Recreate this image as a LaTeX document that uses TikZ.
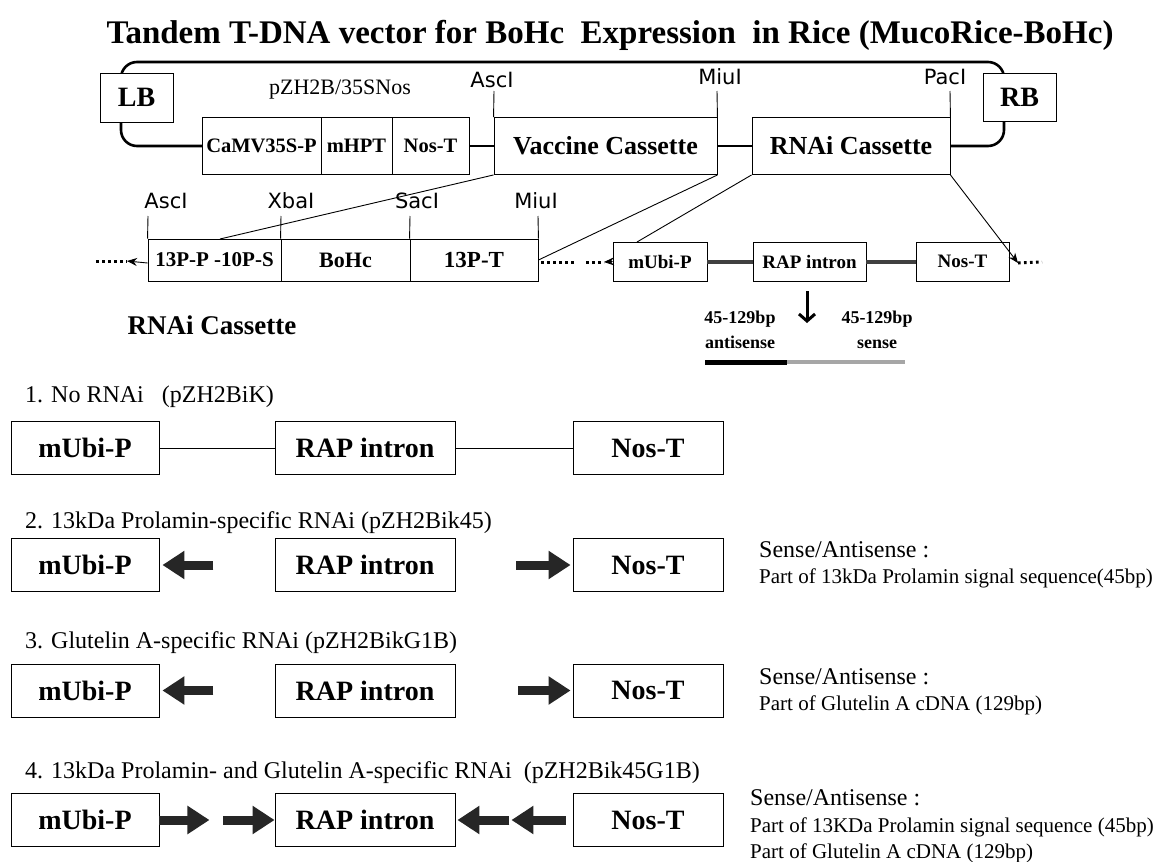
\documentclass[tikz,border=0pt]{standalone}
\usepackage{fontspec}
\setmainfont{Liberation Serif}
\newfontfamily\enzfont{DejaVu Sans}
\usetikzlibrary{arrows.meta}

\begin{document}
\begin{tikzpicture}[x=1pt,y=-1pt,
    box/.style={draw, line width=0.9pt, fill=white, inner sep=0pt},
    bigbox/.style={box, minimum height=53pt, font=\bfseries\fontsize{28}{30}\selectfont},
    txt/.style={inner sep=0pt, anchor=west},
    enz/.style={inner sep=0pt, anchor=base, font=\enzfont\fontsize{21}{22}\selectfont},
    frame/.style={line width=2.6pt},
    thin/.style={line width=0.9pt},
    dots/.style={line width=3pt, dash pattern=on 2.6pt off 3.4pt},
    blk/.style={line width=9pt, draw=black!85, -{Triangle[length=22pt,width=27pt]}},
  ]
  \path[use as bounding box, fill=white] (0,0) rectangle (1165,862);

  \node[font=\bfseries\fontsize{33}{36}\selectfont] (title) at (610,35)
    {Tandem T-DNA vector for BoHc\ \ Expression\ \ in Rice (MucoRice-BoHc)};

  % T-DNA
  \draw[frame, rounded corners=16] (202,146) -- (121,146) -- (121,62) -- (1004,62) -- (1004,146) -- (950,146);
  \node[box, minimum width=73pt, minimum height=49pt, font=\bfseries\fontsize{28}{30}\selectfont] (lb) at (136.5,97.5) {LB};
  \node[box, minimum width=73pt, minimum height=48pt, font=\bfseries\fontsize{28}{30}\selectfont] (rb) at (1019.5,97) {RB};
  \node[font=\fontsize{22}{24}\selectfont] (pzh) at (340,90) {pZH2B/35SNos};
  \begin{scope}[every node/.style={box, minimum height=57pt, font=\bfseries\fontsize{20.5}{22}\selectfont}]
    \node[minimum width=119pt] (camv) at (261.5,146) {CaMV35S-P};
    \node[minimum width=71pt] (mhpt) at (356.5,146) {mHPT};
    \node[minimum width=77pt] (nost) at (430.5,146) {Nos-T};
    \node[minimum width=223pt, font=\bfseries\fontsize{26}{28}\selectfont] (vacc) at (605.5,146) {Vaccine Cassette};
    \node[minimum width=198pt, font=\bfseries\fontsize{26}{28}\selectfont] (rnai) at (851,146) {RNAi Cassette};
  \end{scope}
  \draw[frame] (nost) -- (vacc);
  \draw[frame] (vacc) -- (rnai);
  \coordinate (t1) at (494,91);
  \coordinate (t2) at (717,91);
  \coordinate (t3) at (950,91);
  \draw[thin] (t1) -- (vacc.north west);
  \draw[thin] (t2) -- (vacc.north east);
  \draw[thin] (t3) -- (rnai.north east);
  \node[enz] (asc1) at (492,87) {AscI};
  \node[enz] (mlu1) at (720,84) {MiuI};
  \node[enz] (pac1) at (945,84) {PacI};

  % vaccine cassette
  \begin{scope}[every node/.style={box, minimum height=42pt, font=\bfseries\fontsize{22}{24}\selectfont}]
    \node[minimum width=133pt, font=\bfseries\fontsize{21}{22}\selectfont] (p13) at (214.5,260) {13P-P -10P-S};
    \node[minimum width=129pt] (bohc) at (345.5,260) {BoHc};
    \node[minimum width=128pt, font=\bfseries\fontsize{23}{24}\selectfont] (t13) at (474,260) {13P-T};
  \end{scope}
  \coordinate (s1) at (148,216);
  \coordinate (s2) at (281,216);
  \coordinate (s3) at (410,216);
  \coordinate (s4) at (538,216);
  \draw[thin] (s1) -- (p13.north west);
  \draw[thin] (s2) -- (bohc.north west);
  \draw[thin] (s3) -- (t13.north west);
  \draw[thin] (s4) -- (t13.north east);
  \node[enz] (asc2) at (166,208) {AscI};
  \node[enz] (xba2) at (291,208) {XbaI};
  \node[enz] (sac2) at (417,208) {SacI};
  \node[enz] (mlu2) at (536,208) {MiuI};

  % RNAi cassette
  \begin{scope}[every node/.style={box, minimum height=39pt, font=\bfseries\fontsize{19}{20}\selectfont}]
    \node[minimum width=94pt] (mub0) at (660,261.5) {mUbi-P};
    \node[minimum width=113pt] (rap0) at (809.5,261.5) {RAP intron};
    \node[minimum width=93pt] (nos0) at (962.5,261.5) {Nos-T};
  \end{scope}
  \draw[line width=4pt, black!75] (mub0) -- (rap0);
  \draw[line width=4pt, black!75] (rap0) -- (nos0);

  % zoom lines and ends
  \coordinate (v1) at (220,239);
  \coordinate (r1) at (637,242);
  \coordinate (r2) at (1018,263);
  \coordinate (e1) at (127,261);
  \coordinate (e2) at (604,262);
  \draw[thin] (vacc.south west) -- (v1);
  \draw[thin] (vacc.south east) -- (t13.east);
  \draw[thin] (rnai.south west) -- (r1);
  \draw[thin, -{Stealth[length=10pt,width=8pt]}] (rnai.south east) -- (r2);
  \draw[thin, -{Stealth[length=10pt,width=8pt]}] ([yshift=-3pt]p13.west) -- (e1);
  \draw[thin, -{Stealth[length=10pt,width=8pt]}] (mub0.west) -- (e2);
  \draw[dots] (96,261) -- (e1);
  \draw[dots] (541,262) -- (576,262);
  \draw[dots] (586,262) -- (e2);
  \draw[dots] (r2) -- (1042,262);

  % sense / antisense
  \coordinate (d1) at (807,291);
  \coordinate (d2) at (807,323);
  \draw[line width=3pt, -{Straight Barb[length=7pt,width=16pt]}] (d1) -- (d2);
  \node[align=center, font=\bfseries\fontsize{18}{25}\selectfont] (anti) at (740,330) {45-129bp\\antisense};
  \node[align=center, font=\bfseries\fontsize{18}{25}\selectfont] (sens) at (877,330) {45-129bp\\sense};
  \fill[black] (705,360) rectangle (787,364.5);
  \fill[black!35] (787,360) rectangle (905,364);

  \node[font=\bfseries\fontsize{27}{30}\selectfont] (head) at (212,325) {RNAi Cassette};

  % 1
  \node[txt, font=\fontsize{24}{26}\selectfont] (lab1) at (25,397) {1. No RNAi\ \ \ (pZH2BiK)};
  \node[bigbox, minimum width=148pt] (mub1) at (85,448) {mUbi-P};
  \node[bigbox, minimum width=180pt] (rap1) at (365,448) {RAP intron};
  \node[bigbox, minimum width=150pt] (nos1) at (648,448) {Nos-T};
  \draw[thin] (mub1) -- (rap1);
  \draw[thin] (rap1) -- (nos1);

  % 2
  \node[txt, font=\fontsize{24}{26}\selectfont] (lab2) at (25,523) {2. 13kDa Prolamin-specific RNAi (pZH2Bik45)};
  \node[bigbox, minimum width=148pt] (mub2) at (85,565) {mUbi-P};
  \node[bigbox, minimum width=180pt] (rap2) at (365,565) {RAP intron};
  \node[bigbox, minimum width=150pt] (nos2) at (648,565) {Nos-T};
  \draw[blk] ([xshift=54pt]mub2.east) -- ([xshift=3pt]mub2.east);
  \draw[blk] ([xshift=61pt]rap2.east) -- ([xshift=-2pt]nos2.west);
  \node[txt, font=\fontsize{24}{26}\selectfont] (sa2) at (759,550) {Sense/Antisense :};
  \node[txt, font=\fontsize{21}{22}\selectfont] (pa2) at (759,578) {Part of 13kDa Prolamin signal sequence(45bp)};

  % 3
  \node[txt, font=\fontsize{24}{26}\selectfont] (lab3) at (25,643) {3. Glutelin A-specific RNAi (pZH2BikG1B)};
  \node[bigbox, minimum width=148pt] (mub3) at (85,690.5) {mUbi-P};
  \node[bigbox, minimum width=180pt] (rap3) at (365,690.5) {RAP intron};
  \node[bigbox, minimum width=150pt] (nos3) at (648,690.5) {Nos-T};
  \draw[blk] ([xshift=54pt]mub3.east) -- ([xshift=3pt]mub3.east);
  \draw[blk] ([xshift=63pt]rap3.east) -- ([xshift=-2pt]nos3.west);
  \node[txt, font=\fontsize{24}{26}\selectfont] (sa3) at (759,677) {Sense/Antisense :};
  \node[txt, font=\fontsize{21}{22}\selectfont] (pa3) at (759,705) {Part of Glutelin A cDNA (129bp)};

  % 4
  \node[txt, font=\fontsize{24}{26}\selectfont] (lab4) at (25,773) {4. 13kDa Prolamin- and Glutelin A-specific RNAi\ \ (pZH2Bik45G1B)};
  \node[bigbox, minimum width=148pt] (mub4) at (85,820) {mUbi-P};
  \node[bigbox, minimum width=180pt] (rap4) at (365,820) {RAP intron};
  \node[bigbox, minimum width=150pt] (nos4) at (648,820) {Nos-T};
  \draw[blk] (mub4.east) -- ([xshift=50pt]mub4.east);
  \draw[blk] ([xshift=64pt]mub4.east) -- (rap4.west);
  \draw[blk] ([xshift=54pt]rap4.east) -- ([xshift=2pt]rap4.east);
  \draw[blk] ([xshift=-7pt]nos4.west) -- ([xshift=56pt]rap4.east);
  \node[txt, font=\fontsize{24}{26}\selectfont] (sa4) at (750,798) {Sense/Antisense :};
  \node[txt, font=\fontsize{21}{22}\selectfont] (pa4a) at (750,827) {Part of 13KDa Prolamin signal sequence (45bp)};
  \node[txt, font=\fontsize{21}{22}\selectfont] (pa4b) at (750,853) {Part of Glutelin A cDNA (129bp)};
\end{tikzpicture}
\end{document}
